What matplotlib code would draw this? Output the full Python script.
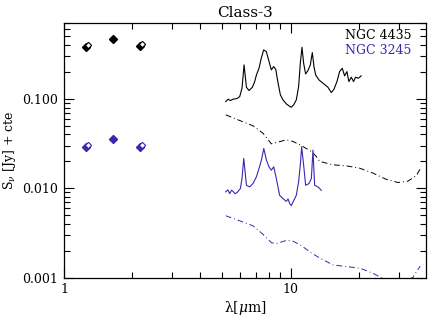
import numpy as np
import matplotlib
matplotlib.use('Agg')
import matplotlib.pyplot as plt
from matplotlib.ticker import LogLocator, NullFormatter, FixedFormatter, FixedLocator

plt.rcParams['font.family'] = ['DejaVu Serif']
plt.rcParams['mathtext.fontset'] = 'dejavuserif'

blue = '#3a28b0'

# photometry (J, H, K) - filled points
phot_wl = [1.25, 1.65, 2.17]
phot_4435 = [0.384, 0.468, 0.394]
phot_3245 = [0.0288, 0.0355, 0.0288]
# second set (open points, J and K)
phot_wl_b = [1.27, 2.21]
phot_4435_b = [0.405, 0.415]
phot_3245_b = [0.0303, 0.0303]

# NGC 4435 spectrum
wl_4435 = [5.17, 5.30, 5.42, 5.57, 5.80, 5.96, 6.10, 6.23, 6.38, 6.55, 6.78, 6.94,
           7.06, 7.25, 7.42, 7.60, 7.81, 8.03, 8.22, 8.41, 8.59, 8.80, 9.01, 9.25,
           9.57, 9.83, 10.07, 10.31, 10.59, 10.84, 11.03, 11.22, 11.41, 11.64, 11.92,
           12.21, 12.46, 12.67, 12.89, 13.33, 13.88, 14.60, 15.11, 15.52, 16.00, 16.44,
           16.89, 17.30, 17.71, 18.07, 18.51, 18.95, 19.33, 19.86, 20.48]
fl_4435 = [0.0933, 0.0992, 0.0958, 0.0992, 0.1009, 0.1062, 0.1316, 0.240, 0.135, 0.124,
           0.135, 0.156, 0.185, 0.220, 0.285, 0.353, 0.338, 0.261, 0.211, 0.230, 0.2146,
           0.150, 0.1108, 0.0975, 0.0879, 0.0835, 0.0807, 0.0857, 0.0975, 0.137, 0.250,
           0.378, 0.250, 0.190, 0.2074, 0.240, 0.3294, 0.230, 0.185, 0.163, 0.150, 0.135,
           0.1177, 0.128, 0.156, 0.202, 0.220, 0.181, 0.202, 0.156, 0.175, 0.156, 0.175,
           0.170, 0.181]

# NGC 4435 model (dash-dot)
wl_4435_m = [5.17, 5.96, 6.83, 7.55, 8.22, 8.65, 9.57, 10.24, 11.14, 12.33, 12.97,
             13.42, 15.35, 17.59, 20.14, 23.05, 26.39, 29.71, 32.88, 35.78, 37.25]
fl_4435_m = [0.0663, 0.0573, 0.0499, 0.0413, 0.0314, 0.0325, 0.0348, 0.0334, 0.0301,
             0.0258, 0.0227, 0.0200, 0.0183, 0.0178, 0.0168, 0.0148, 0.0126, 0.0116,
             0.0120, 0.0138, 0.0164]

# NGC 3245 spectrum
wl_3245 = [5.17, 5.28, 5.39, 5.48, 5.57, 5.68, 5.80, 6.00, 6.10, 6.21, 6.38, 6.60, 6.82,
           7.06, 7.25, 7.43, 7.61, 7.82, 8.02, 8.22, 8.42, 8.65, 8.94, 9.25, 9.57, 9.74,
           9.90, 10.07, 10.24, 10.59, 10.84, 11.03, 11.18, 11.41, 11.64, 12.04, 12.34,
           12.54, 12.76, 13.19, 13.66]
fl_3245 = [0.00911, 0.00960, 0.00872, 0.00950, 0.00925, 0.00870, 0.00895, 0.00992,
           0.01285, 0.02157, 0.0108, 0.01037, 0.0113, 0.01343, 0.01665, 0.02064, 0.0279,
           0.02064, 0.0174, 0.01593, 0.0174, 0.0128, 0.00834, 0.00766, 0.00714, 0.00760,
           0.00673, 0.00640, 0.00703, 0.00834, 0.0118, 0.01813, 0.0292, 0.01813, 0.0108,
           0.0113, 0.01285, 0.0267, 0.0108, 0.01037, 0.0095]

# NGC 3245 model (dash-dot)
wl_3245_m = [5.17, 5.96, 6.82, 7.55, 8.22, 8.65, 9.57, 10.24, 11.14, 12.34, 13.42,
             15.35, 17.60, 20.14, 23.05, 25.51, 28.7, 31.8, 34.6, 36.0, 37.3]
fl_3245_m = [0.00493, 0.00433, 0.0038, 0.00306, 0.00246, 0.00241, 0.00261, 0.00256,
             0.00229, 0.00189, 0.00166, 0.00139, 0.00133, 0.00128, 0.00112, 0.00098,
             0.00094, 0.00094, 0.00100, 0.00118, 0.00135]

fig = plt.figure(figsize=(4.36, 3.21), dpi=100)
ax = fig.add_axes([0.1468, 0.135, 0.830, 0.794])

ax.plot(wl_4435, fl_4435, color='black', lw=0.8)
ax.plot(wl_4435_m, fl_4435_m, color='black', lw=0.7, dashes=(6, 3, 1, 3))
ax.plot(wl_3245, fl_3245, color=blue, lw=0.8)
ax.plot(wl_3245_m, fl_3245_m, color=blue, lw=0.7, dashes=(6, 3, 1, 3))

ax.plot(phot_wl, phot_4435, 'D', color='black', ms=4.2, ls='none')
ax.plot(phot_wl_b, phot_4435_b, 'D', mfc='white', mec='black', ms=3.2, mew=0.8, ls='none')
ax.plot(phot_wl, phot_3245, 'D', color=blue, ms=4.2, ls='none')
ax.plot(phot_wl_b, phot_3245_b, 'D', mfc='white', mec=blue, ms=3.2, mew=0.8, ls='none')

ax.set_xscale('log')
ax.set_yscale('log')
ax.set_xlim(1, 39.5)
ax.set_ylim(0.001, 0.71)

ax.xaxis.set_major_locator(FixedLocator([1, 10]))
ax.xaxis.set_major_formatter(FixedFormatter(['1', '10']))
ax.xaxis.set_minor_locator(LogLocator(base=10, subs=np.arange(2, 10), numticks=10))
ax.xaxis.set_minor_formatter(NullFormatter())
ax.yaxis.set_major_locator(FixedLocator([0.001, 0.01, 0.1]))
ax.yaxis.set_major_formatter(FixedFormatter(['0.001', '0.010', '0.100']))
ax.yaxis.set_minor_locator(LogLocator(base=10, subs=np.arange(2, 10), numticks=10))
ax.yaxis.set_minor_formatter(NullFormatter())

ax.tick_params(which='both', direction='in', top=True, right=True, labelsize=9, width=0.8)
ax.tick_params(which='major', length=7, pad=4)
ax.tick_params(which='minor', length=4)
for s in ax.spines.values():
    s.set_linewidth(0.9)

ax.set_title('Class-3', fontsize=11, pad=4)
ax.set_xlabel(r'λ[$\mu$m]', fontsize=10, labelpad=2)
ax.set_ylabel(r'S$_\nu$ [Jy] + cte', fontsize=9, labelpad=3)

ax.text(0.96, 0.975, 'NGC 4435', transform=ax.transAxes, ha='right', va='top', fontsize=9)
ax.text(0.96, 0.915, 'NGC 3245', transform=ax.transAxes, ha='right', va='top', fontsize=9,
        color=blue)

fig.savefig('out.png', dpi=100)
